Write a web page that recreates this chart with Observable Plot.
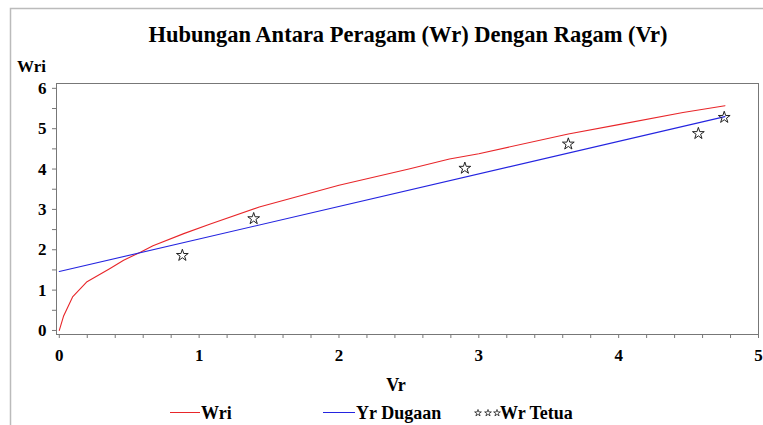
<!DOCTYPE html>
<html><head><meta charset="utf-8">
<script src="https://cdn.jsdelivr.net/npm/d3@7"></script>
<script src="https://cdn.jsdelivr.net/npm/@observablehq/plot@0.6"></script>
<style>body{margin:0;background:#fff;} #chart{width:763px;height:425px;}</style>
</head><body><div id="chart"></div>
<script>
// Data
const wriVr = [0, 0.03, 0.095, 0.195, 0.36, 0.46, 0.58, 0.67, 0.89, 1.08, 1.43, 2.0, 2.5, 2.79, 3.0, 3.64, 4.0, 4.46, 4.76];
const wriWr = [0, 0.35, 0.83, 1.2, 1.53, 1.74, 1.94, 2.1, 2.4, 2.64, 3.06, 3.6, 4.0, 4.25, 4.38, 4.87, 5.1, 5.4, 5.57];
const yrVr = [0, 4.76];
const yrWr = [1.46, 5.3];
const tetuaVr = [0.88, 1.39, 2.90, 3.64, 4.57, 4.755];
const tetuaWr = [1.86, 2.77, 4.02, 4.62, 4.88, 5.28];
const xTicks = [0,0.2,0.4,0.6,0.8,1,1.2,1.4,1.6,1.8,2,2.2,2.4,2.6,2.8,3,3.2,3.4,3.6,3.8,4,4.2,4.4,4.6,4.8,5];
const yTicks = [0,0.5,1,1.5,2,2.5,3,3.5,4,4.5,5,5.5,6];
const titleText = "Hubungan Antara Peragam (Wr) Dengan Ragam (Vr)";
const xLabel = "Vr", yLabel = "Wri";
const legendNames = ["Wri", "Yr Dugaan", "Wr Tetua"];
const colors = {wri: "#e8262a", yr: "#2424e0", tetua: "#222"};

const wri = wriVr.map((v,i)=>({vr:v, wr:wriWr[i]}));
const yr = yrVr.map((v,i)=>({vr:v, wr:yrWr[i]}));
const tetua = tetuaVr.map((v,i)=>({vr:v, wr:tetuaWr[i]}));
const font = "'Liberation Serif', 'Times New Roman', serif";
const isInt = d => Math.abs(d - Math.round(d)) < 1e-9;

const W = 763, H = 425;
const plot = Plot.plot({
  width: W, height: H,
  marginTop: 83, marginLeft: 56, marginRight: 5, marginBottom: 91,
  style: {fontFamily: font, background: "#fff", color: "#000"},
  x: {domain: [-0.02, 5]},
  y: {domain: [-0.1, 6.12]},
  marks: [
    Plot.axisX({ticks: xTicks, tickSize: 4, tickPadding: 10, stroke: "#777", fill: "#000",
      tickFormat: d => isInt(d) ? String(Math.round(d)) : "", fontSize: 17, fontWeight: "bold", label: null}),
    Plot.axisY({ticks: yTicks, tickSize: 4, tickPadding: 6, stroke: "#777", fill: "#000",
      tickFormat: d => isInt(d) ? String(Math.round(d)) : "", fontSize: 17, fontWeight: "bold", label: null}),
    Plot.frame({stroke: "#777"}),
    Plot.line(wri, {x: "vr", y: "wr", stroke: colors.wri, strokeWidth: 1.1}),
    Plot.line(yr, {x: "vr", y: "wr", stroke: colors.yr, strokeWidth: 1.1}),
    Plot.dot(tetua, {x: "vr", y: "wr", symbol: "star", r: 3.7, stroke: colors.tetua, strokeWidth: 1, fill: "none"})
  ]
});
document.getElementById("chart").appendChild(plot);

const svg = d3.select(plot);
// outer border
svg.append("path").attr("d", `M10.5,${H} V8.5 H${W}`).attr("fill","none").attr("stroke","#bbb").attr("stroke-width",1.5);
// title
svg.append("text").attr("x", 408).attr("y", 42).attr("text-anchor","middle")
  .attr("font-family", font).attr("font-weight","bold").attr("font-size", 22.5).text(titleText);
// y label
svg.append("text").attr("x", 17).attr("y", 72).attr("text-anchor","start")
  .attr("font-family", font).attr("font-weight","bold").attr("font-size", 17).text(yLabel);
// x label
svg.append("text").attr("x", 396).attr("y", 391).attr("text-anchor","middle")
  .attr("font-family", font).attr("font-weight","bold").attr("font-size", 18).text(xLabel);
// legend
const lg = svg.append("g").attr("font-family", font).attr("font-weight","bold").attr("font-size", 18).attr("text-anchor","start");
lg.append("line").attr("x1",170).attr("x2",200).attr("y1",412.5).attr("y2",412.5).attr("stroke",colors.wri);
lg.append("text").attr("x",201).attr("y",419).text(legendNames[0]);
lg.append("line").attr("x1",323).attr("x2",355).attr("y1",412.5).attr("y2",412.5).attr("stroke",colors.yr);
lg.append("text").attr("x",356).attr("y",419).text(legendNames[1]);
const star = d3.symbol(d3.symbolStar, 14)();
[478, 488, 497].forEach(x => lg.append("path").attr("d", star).attr("transform", `translate(${x},413)`)
  .attr("fill","none").attr("stroke",colors.tetua).attr("stroke-width",0.8));
lg.append("text").attr("x",500).attr("y",419).text(legendNames[2]);
</script>
</body></html>
